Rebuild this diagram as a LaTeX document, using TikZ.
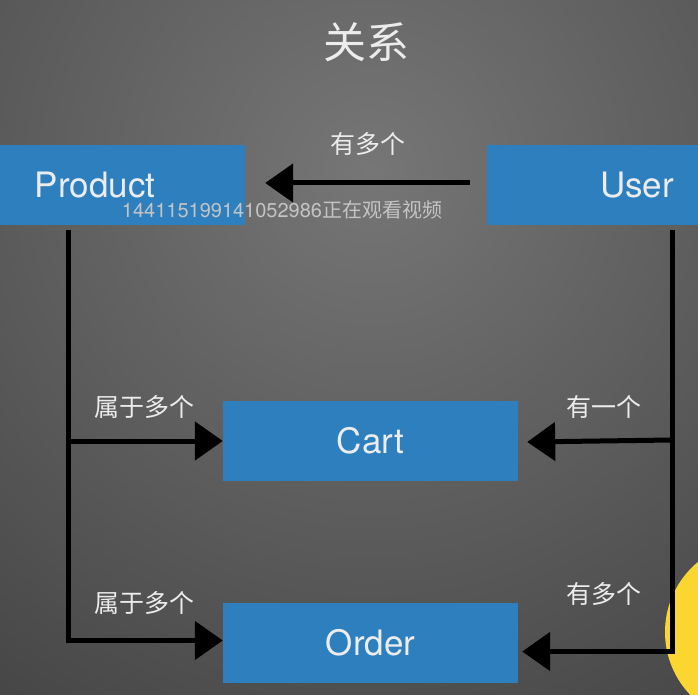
\documentclass[tikz,border=0pt]{standalone}
\usepackage{fontspec}
\setmainfont{TeX Gyre Heros}
\newfontfamily\cjk{Noto Sans CJK SC}
\usetikzlibrary{arrows.meta}
\definecolor{boxblue}{RGB}{46,127,189}
\definecolor{textwhite}{RGB}{236,236,236}
\definecolor{bglight}{RGB}{118,118,118}
\definecolor{bgdark}{RGB}{44,44,44}
\definecolor{marktext}{RGB}{196,196,196}
\definecolor{sunyellow}{RGB}{252,214,48}
\tikzstyle{entity}=[fill=boxblue,text=textwhite,minimum width=295pt,minimum height=80pt,inner sep=0pt,font=\fontsize{35}{35}\selectfont]
\tikzstyle{rel}=[text=textwhite,font=\cjk\fontsize{25}{25}\selectfont]
\tikzstyle{chalk}=[line width=5pt,black,-{Triangle[length=28pt,width=38pt]}]
\tikzstyle{chalkline}=[line width=5pt,black]

\begin{document}
\begin{tikzpicture}[x=1pt,y=-1pt]
\useasboundingbox (0,0) rectangle (698,695);
\clip (0,0) rectangle (698,695);
\fill[bgdark] (0,0) rectangle (698,695);
\shade[inner color=bglight,outer color=bgdark] (370,170) circle (1000);

\node[text=textwhite,font=\cjk\fontsize{43}{43}\selectfont] (title) at (366,42) {关系};

\node[entity,minimum width=300pt] (product) at (95,185) {Product};
\node[entity,minimum width=300pt] (user) at (637,185) {User};
\node[entity] (cart) at (370.5,441) {Cart};
\node[entity] (order) at (370.5,642.5) {Order};

% product <- user
\node[rel] (hasmany) at (368,144) {有多个};
\draw[chalk] ([xshift=-17pt,yshift=2pt]user.west) -- ([xshift=20pt,yshift=2pt]product.east);

% product side
\coordinate (ltop) at (68,230);
\coordinate (ljoin) at (68,441);
\draw[chalkline] (ltop) -- (ljoin);
\draw[chalk] (ljoin) |- ([yshift=2pt]order.west);
\draw[chalk] (ljoin) -- (cart.west);
\node[rel] (belongs1) at (144,407) {属于多个};
\node[rel] (belongs2) at (144,603) {属于多个};

% user side
\fill[sunyellow] (756,632) circle (91);
\coordinate (rtop) at (672,230);
\coordinate (rjoin) at (672,440);
\draw[chalkline] (rtop) -- (rjoin);
\draw[chalk] (rjoin) |- ([xshift=4pt,yshift=-9pt]order.east);
\draw[chalk] (rjoin) -- ([xshift=9pt,yshift=-1pt]cart.east);
\node[rel] (hasone) at (604,407) {有一个};
\node[rel] (hasmany2) at (604,594) {有多个};

\node[text=marktext,font=\fontsize{20}{20}\selectfont] (watermark) at (282,210) {144115199141052986{\cjk 正在观看视频}};
\end{tikzpicture}
\end{document}
